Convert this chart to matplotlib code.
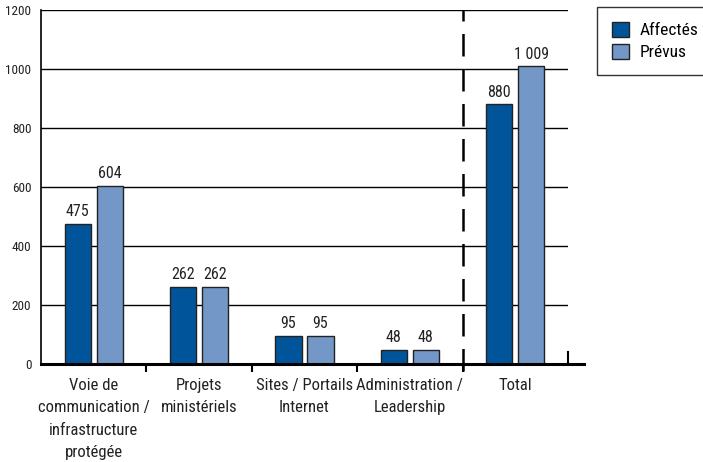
import matplotlib.pyplot as plt
from matplotlib.patches import Patch
import numpy as np

categories = ['Voie de\ncommunication /\ninfrastructure\nprotégée', 'Projets\nministériels',
              'Sites / Portails\nInternet', 'Administration /\nLeadership', 'Total']
affectes = [475, 262, 95, 48, 880]
prevus = [604, 262, 95, 48, 1009]
labels_affectes = ['475', '262', '95', '48', '880']
labels_prevus = ['604', '262', '95', '48', '1 009']

dark = '#00559a'
light = '#7398c8'
plt.rcParams['font.family'] = ['Roboto Condensed', 'Archivo Narrow', 'DejaVu Sans']

fig = plt.figure(figsize=(7.03, 4.62), dpi=100)
ax = fig.add_axes([41 / 703, 1 - 364 / 462, 527 / 703, 354 / 462])

x = np.arange(len(categories))
w = 0.25
off = 0.152
ax.bar(x - off, affectes, w, color=dark, edgecolor='#222222', linewidth=1, zorder=3)
ax.bar(x + off, prevus, w, color=light, edgecolor='#222222', linewidth=1, zorder=3)

for xi, v, t in zip(x, affectes, labels_affectes):
    ax.text(xi - off, v + 16, t, ha='center', va='bottom', fontsize=11.5, color='#222222')
for xi, v, t in zip(x, prevus, labels_prevus):
    ax.text(xi + off, v + 16, t, ha='center', va='bottom', fontsize=11.5, color='#222222')

ax.set_xlim(-0.5, 4.5)
ax.set_ylim(0, 1200)
ax.set_yticks([0, 200, 400, 600, 800, 1000, 1200])
ax.tick_params(axis='y', length=0, labelsize=9.5, pad=7, labelcolor='#222222')
ax.grid(axis='y', color='black', linewidth=1, zorder=0)

ax.set_xticks(x)
ax.set_xticklabels(categories, fontsize=12, linespacing=1.62, color='#222222')
ax.tick_params(axis='x', length=0, pad=10)
ax.set_xticks(np.arange(0.5, 4, 1), minor=True)
ax.tick_params(axis='x', which='minor', length=6, width=1.5, direction='out')

for s in ['top', 'right']:
    ax.spines[s].set_visible(False)
ax.spines['left'].set_linewidth(1.2)
ax.spines['bottom'].set_visible(False)
ax.plot([-0.5, 4.65], [0, 0], color='black', linewidth=2.2, clip_on=False, zorder=4)
ax.plot([4.5, 4.5], [0, 40], color='black', linewidth=1.5, clip_on=False, zorder=4)

ax.plot([3.5, 3.5], [-25, 1200], color='black', linewidth=1.8, linestyle=(0, (9, 5)),
        clip_on=False, zorder=4)

handles = [Patch(facecolor=dark, edgecolor='#222222', label='Affectés'),
           Patch(facecolor=light, edgecolor='#222222', label='Prévus')]
leg = fig.legend(handles=handles, loc='upper left', bbox_to_anchor=(597 / 703, 1 - 7 / 462),
                 fontsize=12.5, frameon=True, fancybox=False, edgecolor='black',
                 handlelength=1.0, handleheight=1.0, handletextpad=0.6, borderpad=0.85,
                 labelspacing=0.3, borderaxespad=0)
leg.get_frame().set_linewidth(1)

fig.savefig('out.png', dpi=100)
